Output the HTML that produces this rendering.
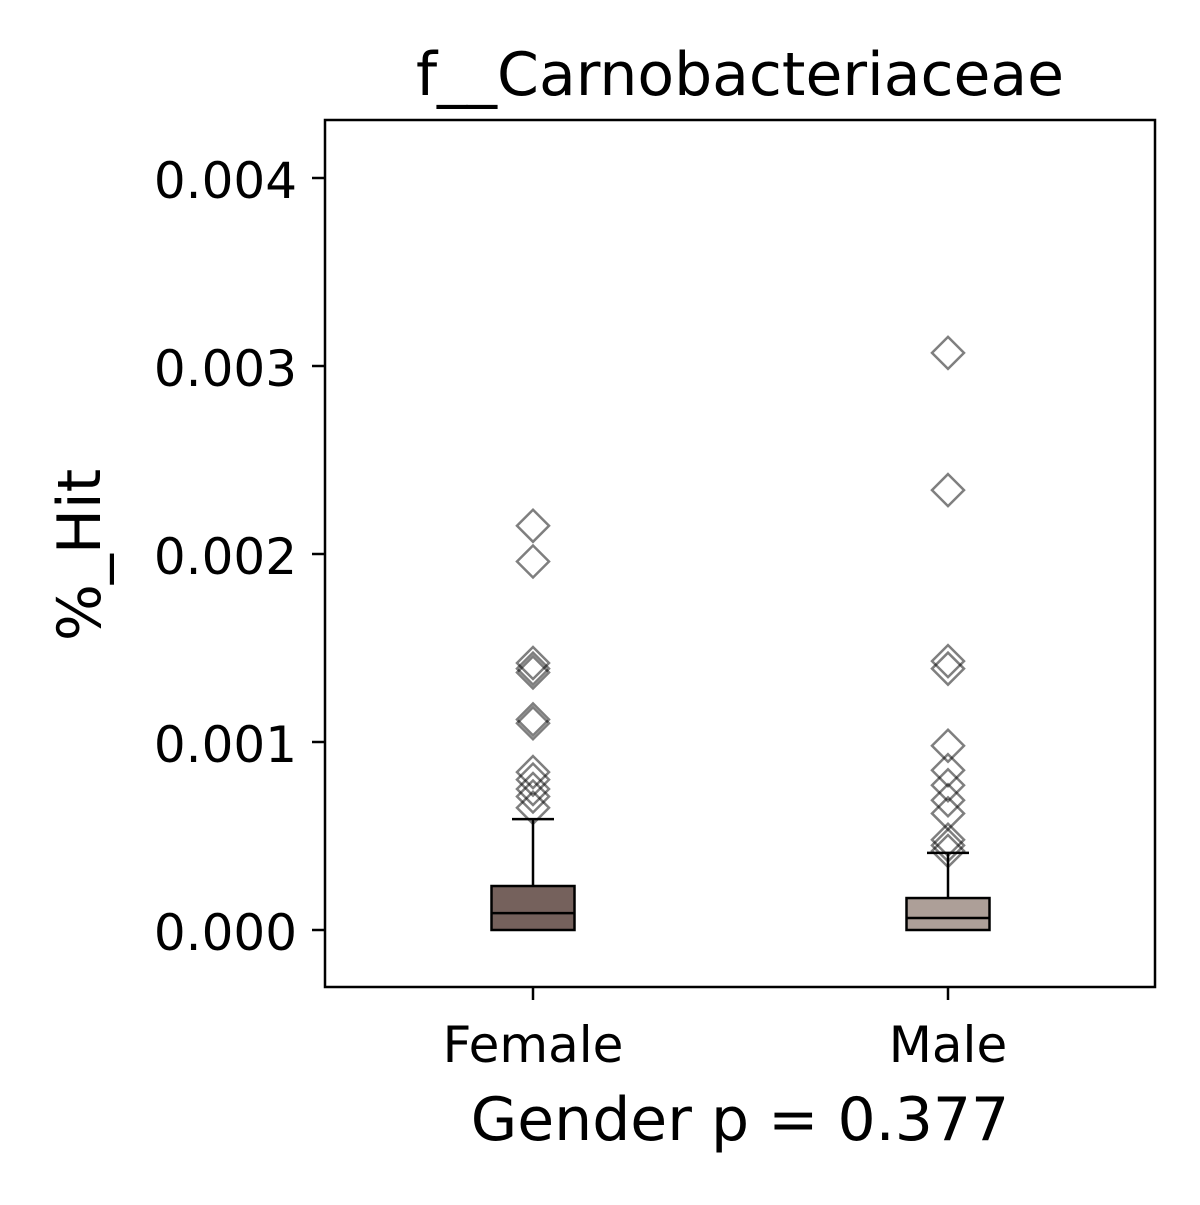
<!DOCTYPE html>
<html><head><meta charset="utf-8"><style>
body{margin:0;background:#fff}
svg text{font-family:"DejaVu Sans","Liberation Sans",sans-serif;fill:#000}
</style></head><body>
<svg id="chart" width="1200" height="1200" viewBox="0 0 1200 1200">
<rect x="0" y="0" width="1200" height="1200" fill="#fff"/>
<text x="740" y="95" font-size="60" text-anchor="middle">f__Carnobacteriaceae</text>
<g id="plot"></g>
<rect x="325" y="120" width="830" height="867" fill="none" stroke="#000" stroke-width="2.5"/>
<text x="740" y="1140" font-size="60" text-anchor="middle">Gender p = 0.377</text>
<text transform="translate(100,555) rotate(-90)" font-size="60" text-anchor="middle">%_Hit</text>
</svg>
<script>
const categories = ["Female", "Male"];
const boxColors = ["#75615c", "#ad9f98"];
const q1 = [0, 0];
const medians = [0.00009, 0.000064];
const q3 = [0.000234, 0.00017];
const whiskerLow = [0, 0];
const whiskerHigh = [0.00059, 0.00041];
const outliersFemale = [0.00215, 0.00196, 0.00142, 0.00139, 0.00137, 0.00112, 0.00110, 0.00084, 0.00080, 0.00075, 0.00071, 0.00065];
const outliersMale = [0.00307, 0.00234, 0.00143, 0.00139, 0.00098, 0.00085, 0.00077, 0.00069, 0.00062, 0.00048, 0.00045, 0.00042];
const yTicks = [0, 0.001, 0.002, 0.003, 0.004];
const yTickLabels = ["0.000", "0.001", "0.002", "0.003", "0.004"];

const NS = "http://www.w3.org/2000/svg";
const g = document.getElementById("plot");
const yScale = v => 930 - v / 0.001 * 188;
const xScale = i => 533 + i * 415;
function mk(tag, attrs, parent) {
  const e = document.createElementNS(NS, tag);
  for (const k in attrs) e.setAttribute(k, attrs[k]);
  (parent || g).appendChild(e);
  return e;
}
yTicks.forEach((t, i) => {
  const y = yScale(t);
  const tk = mk("line", {x1: 312, x2: 325, y1: y, y2: y, stroke: "#000", "stroke-width": 2.5});
  
  
  const tx = mk("text", {x: 297, y: y + 20, "font-size": 50, "text-anchor": "end"});
  tx.textContent = yTickLabels[i];
  
  
});
const outliers = [outliersFemale, outliersMale];
categories.forEach((c, i) => {
  const x = xScale(i);
  const tk = mk("line", {x1: x, x2: x, y1: 987, y2: 1000, stroke: "#000", "stroke-width": 2.5});
  
  
  const tx = mk("text", {x: x, y: 1062, "font-size": 50, "text-anchor": "middle"});
  tx.textContent = c;
  
  
  const w = mk("line", {x1: x, x2: x, y1: yScale(q3[i]), y2: yScale(whiskerHigh[i]), stroke: "#000", "stroke-width": 2.5});
  
  
  const cap = mk("line", {x1: x - 21, x2: x + 21, y1: yScale(whiskerHigh[i]), y2: yScale(whiskerHigh[i]), stroke: "#000", "stroke-width": 2.5});
  
  
  const b = mk("rect", {x: x - 41.5, y: yScale(q3[i]), width: 83, height: yScale(q1[i]) - yScale(q3[i]), fill: boxColors[i], stroke: "#000", "stroke-width": 2.5});
  
  
  const m = mk("line", {x1: x - 41.5, x2: x + 41.5, y1: yScale(medians[i]), y2: yScale(medians[i]), stroke: "#000", "stroke-width": 2.5});
  
  
  outliers[i].forEach(v => {
    const y = yScale(v);
    const d = mk("polygon", {points: `${x},${y-16} ${x+16},${y} ${x},${y+16} ${x-16},${y}`, fill: "none", stroke: "#000", "stroke-opacity": 0.5, "stroke-width": 2.5});
    
    
  });
});
</script>
</body></html>
